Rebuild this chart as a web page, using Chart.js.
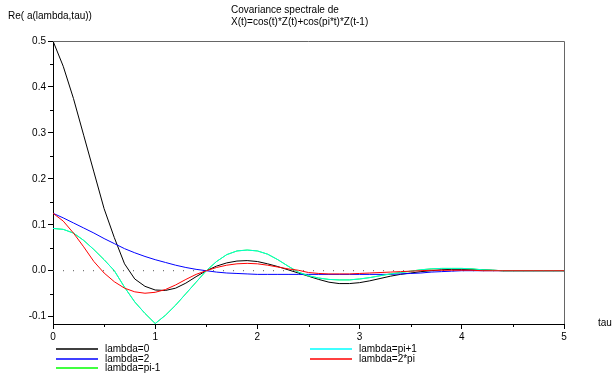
<!DOCTYPE html>
<html><head><meta charset="utf-8">
<script src="https://cdn.jsdelivr.net/npm/chart.js@4.4.1/dist/chart.umd.min.js"></script>
<style>html,body{margin:0;padding:0;background:#fff;overflow:hidden}#wrap{position:relative;width:613px;height:374px}</style>
</head><body><div id="wrap"><canvas id="c" width="613" height="374"></canvas></div>
<script>
const TAU = [0.0,0.1,0.2,0.3,0.4,0.5,0.6,0.7,0.8,0.9,
  1.0,1.1,1.2,1.3,1.4,1.5,1.6,1.7,1.8,1.9,
  2.0,2.1,2.2,2.3,2.4,2.5,2.6,2.7,2.8,2.9,
  3.0,3.1,3.2,3.3,3.4,3.5,3.6,3.7,3.8,3.9,
  4.0,4.1,4.2,4.3,4.4,4.5,4.6,4.7,4.8,4.9,5.0];
const LAMBDA_0 = [0.500,0.445,0.375,0.295,0.215,0.135,0.072,0.015,-0.018,-0.034,
  -0.042,-0.043,-0.038,-0.027,-0.013,0.000,0.010,0.017,0.021,0.022,
  0.020,0.015,0.009,0.002,-0.005,-0.012,-0.019,-0.025,-0.028,-0.028,
  -0.026,-0.022,-0.017,-0.012,-0.008,-0.005,-0.002,0.000,0.002,0.003,
  0.003,0.003,0.002,0.001,0.000,0.000,0.000,0.000,0.000,0.000,0.000];
const LAMBDA_2 = [0.125,0.115,0.104,0.093,0.082,0.070,0.059,0.048,0.039,0.031,
  0.024,0.018,0.012,0.007,0.003,0.000,-0.003,-0.005,-0.006,-0.007,
  -0.008,-0.008,-0.008,-0.008,-0.008,-0.008,-0.008,-0.008,-0.008,-0.008,
  -0.008,-0.008,-0.008,-0.008,-0.007,-0.006,-0.005,-0.003,-0.002,-0.001,
  0.000,0.000,0.000,0.000,0.000,0.000,0.000,0.000,0.000,0.000,0.000];
const LAMBDA_PI_MINUS_1 = [0.092,0.090,0.082,0.066,0.046,0.024,0.000,-0.036,-0.068,-0.093,
  -0.115,-0.097,-0.075,-0.050,-0.025,0.000,0.020,0.035,0.043,0.045,
  0.043,0.036,0.024,0.010,-0.003,-0.011,-0.016,-0.019,-0.020,-0.020,
  -0.018,-0.015,-0.011,-0.007,-0.004,-0.001,0.002,0.004,0.005,0.005,
  0.005,0.004,0.002,0.001,0.000,0.000,0.000,0.000,0.000,0.000,0.000];
const LAMBDA_PI_PLUS_1 = [0.092,0.090,0.082,0.066,0.046,0.024,0.000,-0.036,-0.068,-0.093,
  -0.115,-0.097,-0.075,-0.050,-0.025,0.000,0.020,0.035,0.043,0.045,
  0.043,0.036,0.024,0.010,-0.003,-0.011,-0.016,-0.019,-0.020,-0.020,
  -0.018,-0.015,-0.011,-0.007,-0.004,-0.001,0.002,0.004,0.005,0.005,
  0.005,0.004,0.002,0.001,0.000,0.000,0.000,0.000,0.000,0.000,0.000];
const LAMBDA_2PI = [0.125,0.108,0.082,0.052,0.020,-0.005,-0.024,-0.038,-0.046,-0.049,
  -0.047,-0.041,-0.031,-0.019,-0.008,0.000,0.007,0.012,0.015,0.016,
  0.015,0.012,0.008,0.004,0.001,-0.004,-0.006,-0.007,-0.007,-0.007,
  -0.006,-0.005,-0.004,-0.003,-0.002,-0.001,0.000,0.001,0.001,0.001,
  0.001,0.001,0.000,0.000,0.000,0.000,0.000,0.000,0.000,0.000,0.000];
const ZERO_LINE_X = [0, 5];
const ZERO_LINE_Y = [0, 0];

const X_TICKS = [0,1,2,3,4,5];
const X_TICK_LABELS = ['0','1','2','3','4','5'];
const X_MINOR = [0.5,1.5,2.5,3.5,4.5];
const Y_TICKS = [-0.1,0.0,0.1,0.2,0.3,0.4,0.5];
const Y_TICK_LABELS = ['-0.1','0.0','0.1','0.2','0.3','0.4','0.5'];
const Y_MINOR = [-0.05,0.05,0.15,0.25,0.35,0.45];
const LEGEND_LABELS = ['lambda=0','lambda=2','lambda=pi-1','lambda=pi+1','lambda=2*pi'];
const TITLE_LINES = ['Covariance spectrale de','X(t)=cos(t)*Z(t)+cos(pi*t)*Z(t-1)'];
const Y_LABEL = 'Re( a(lambda,tau))';
const X_LABEL = 'tau';

const FONT = "'Liberation Sans', Arial, Helvetica, sans-serif";
const COLORS = ['#000000','#0000ff','#00ff00','rgba(0,255,255,0.8)','#ff0000'];
const LEGEND_COLORS = ['rgb(0,0,0)','rgb(0,0,255)','rgb(0,255,0)','rgb(0,255,255)','rgb(255,0,0)'];
const SERIES = [LAMBDA_0, LAMBDA_2, LAMBDA_PI_MINUS_1, LAMBDA_PI_PLUS_1, LAMBDA_2PI];

const pts = (xs, ys) => xs.map((x, i) => ({x: x, y: ys[i]}));

const datasets = SERIES.map((s, i) => ({
  label: LEGEND_LABELS[i],
  data: pts(TAU, s),
  borderColor: COLORS[i],
  borderWidth: 1,
  pointRadius: 0,
  tension: 0,
  fill: false,
  order: 5 - i
}));
datasets.push({
  label: 'zero',
  data: pts(ZERO_LINE_X, ZERO_LINE_Y),
  borderColor: '#555',
  borderWidth: 1,
  borderDash: [1, 9],
  pointRadius: 0,
  fill: false,
  order: 10
});

const decorPlugin = {
  id: 'decor',
  afterDraw(chart) {
    const c = chart.ctx, a = chart.chartArea;
    const xs = chart.scales.x, ys = chart.scales.y;
    c.save();
    c.setLineDash([]);
    c.strokeStyle = '#666';
    c.lineWidth = 1;
    c.beginPath();
    c.moveTo(a.left, Math.round(a.top) + 0.5);
    c.lineTo(Math.round(a.right) + 0.5, Math.round(a.top) + 0.5);
    c.lineTo(Math.round(a.right) + 0.5, a.bottom);
    c.stroke();
    c.strokeStyle = '#000';
    c.beginPath();
    Y_MINOR.forEach(v => {
      const y = Math.round(ys.getPixelForValue(v)) + 0.5;
      c.moveTo(a.left - 3, y); c.lineTo(a.left, y);
    });
    X_MINOR.forEach(v => {
      const x = Math.round(xs.getPixelForValue(v)) + 0.5;
      c.moveTo(x, a.bottom); c.lineTo(x, a.bottom + 3);
    });
    c.stroke();
    c.fillStyle = '#000';
    c.font = '10px ' + FONT;
    c.textBaseline = 'middle';
    c.textAlign = 'left';
    c.fillText(Y_LABEL, 8, 16);
    c.fillText(TITLE_LINES[0], 231, 10);
    c.fillText(TITLE_LINES[1], 231, 22);
    c.fillText(X_LABEL, 598, 323);
    const rows = [[56, 349], [56, 359], [56, 368], [310, 349], [310, 359]];
    rows.forEach((p, i) => {
      c.strokeStyle = LEGEND_COLORS[i];
      c.lineWidth = 1.3;
      c.beginPath();
      c.moveTo(p[0], p[1]);
      c.lineTo(p[0] + 42, p[1]);
      c.stroke();
      c.fillStyle = '#000';
      c.fillText(LEGEND_LABELS[i], p[0] + 49, p[1]);
    });
    c.restore();
  }
};

new Chart(document.getElementById('c'), {
  type: 'line',
  data: { datasets: datasets },
  options: {
    responsive: false,
    animation: false,
    devicePixelRatio: 1,
    layout: { padding: { top: 41, right: 49, left: 0, bottom: 0 } },
    plugins: { legend: { display: false }, title: { display: false }, tooltip: { enabled: false } },
    scales: {
      x: {
        type: 'linear', min: 0, max: 5,
        afterBuildTicks: s => { s.ticks = X_TICKS.map(v => ({value: v})); },
        afterFit: s => { s.height = 50; },
        ticks: {
          autoSkip: false, maxRotation: 0, padding: 2,
          color: '#000', font: { family: FONT, size: 10 },
          callback: (v, i) => X_TICK_LABELS[i]
        },
        grid: { drawOnChartArea: false, drawTicks: true, tickLength: 5, tickColor: '#000' },
        border: { display: true, color: '#000', width: 1 }
      },
      y: {
        type: 'linear', min: -0.116, max: 0.5,
        afterBuildTicks: s => { s.ticks = Y_TICKS.map(v => ({value: v})); },
        afterFit: s => { s.width = 53; },
        ticks: {
          autoSkip: false, padding: 2,
          color: '#000', font: { family: FONT, size: 10 },
          callback: (v, i) => Y_TICK_LABELS[i]
        },
        grid: { drawOnChartArea: false, drawTicks: true, tickLength: 5, tickColor: '#000' },
        border: { display: true, color: '#000', width: 1 }
      }
    }
  },
  plugins: [decorPlugin]
});
</script></body></html>
